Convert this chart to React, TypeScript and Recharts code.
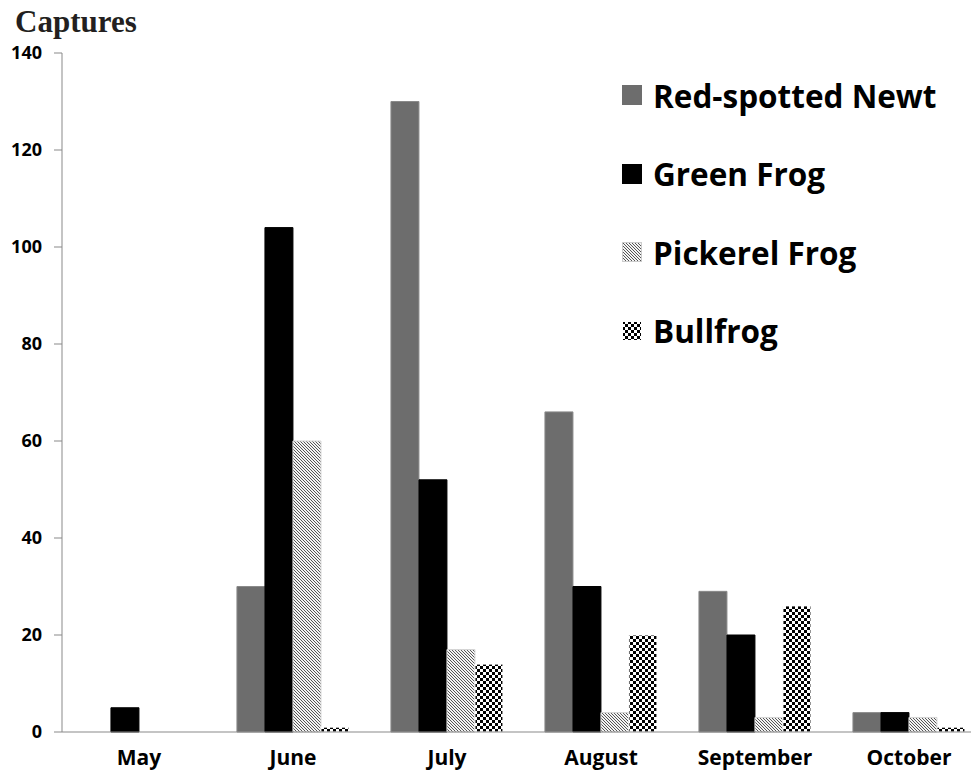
import React from "react";
import { BarChart, Bar, XAxis, YAxis, Legend } from "recharts";

const MONTHS = ["May", "June", "July", "August", "September", "October"];
const NEWT = [0, 30, 130, 66, 29, 4];
const GREEN_FROG = [5, 104, 52, 30, 20, 4];
const PICKEREL_FROG = [0, 60, 17, 4, 3, 3];
const BULLFROG = [0, 1, 14, 20, 26, 1];
const Y_TICKS = [0, 20, 40, 60, 80, 100, 120, 140];
const BOUNDARY_TICKS = [0, 1, 2, 3, 4, 5, 6];

const SERIES = [
  { key: "newt", name: "Red-spotted Newt", fill: "#6d6d6d", stroke: "#8a8a8a", pattern: "" },
  { key: "green", name: "Green Frog", fill: "#000000", stroke: "#000000", pattern: "" },
  { key: "pickerel", name: "Pickerel Frog", fill: "url(#pickerel)", stroke: "#d4d4d4", pattern: "pickerel" },
  { key: "bullfrog", name: "Bullfrog", fill: "url(#bullfrog)", stroke: "#ffffff", pattern: "bullfrog" },
];

const data = MONTHS.map((m, i) => ({
  month: m,
  newt: NEWT[i],
  green: GREEN_FROG[i],
  pickerel: PICKEREL_FROG[i],
  bullfrog: BULLFROG[i],
}));

const Patterns = ({ prefix }: { prefix: string }) => (
  <defs>
    <pattern id={prefix + "pickerel"} patternUnits="userSpaceOnUse" width={3} height={3}>
      <rect width={3} height={3} fill="#f4f4f4" />
      <path d="M0,0 L3,3 M-1,2 L1,4 M2,-1 L4,1" stroke="#555" strokeWidth={1} />
    </pattern>
    <pattern id={prefix + "bullfrog"} patternUnits="userSpaceOnUse" width={6} height={6}>
      <rect width={6} height={6} fill="#fff" />
      <rect width={3} height={3} fill="#000" />
      <rect x={3} y={3} width={3} height={3} fill="#000" />
    </pattern>
  </defs>
);

const renderLegend = () => (
  <div>
    {SERIES.map((s) => (
      <div key={s.key} style={{ display: "flex", alignItems: "center", height: 78.5 }}>
        <svg width={20} height={20} style={{ display: "block" }}>
          <Patterns prefix="lg-" />
          <rect
            x={0.5}
            y={0.5}
            width={19}
            height={19}
            fill={s.pattern ? `url(#lg-${s.pattern})` : s.fill}
            stroke={s.pattern === "pickerel" ? "#ccc" : s.fill.startsWith("url") ? "#fff" : s.fill}
          />
        </svg>
        <span
          style={{
            marginLeft: 11,
            fontFamily: '"Open Sans", sans-serif',
            fontWeight: 700,
            fontSize: 31.5,
            color: "#000",
            lineHeight: 1,
            whiteSpace: "nowrap",
          }}
        >
          {s.name}
        </span>
      </div>
    ))}
  </div>
);

export default function App() {
  return (
    <div
      style={{
        position: "relative",
        width: 979,
        height: 778,
        margin: -8,
        overflow: "hidden",
        background: "#fff",
      }}
    >
      <div
        style={{
          position: "absolute",
          left: 15,
          top: 6,
          fontFamily: '"Liberation Serif", "Times New Roman", serif',
          fontWeight: 700,
          fontSize: 31,
          lineHeight: "31px",
          color: "#231f20",
        }}
      >
        Captures
      </div>
      <BarChart
        width={1000}
        height={778}
        data={data}
        margin={{ top: 53, right: 14, bottom: 0, left: 0 }}
        barCategoryGap="13.6%"
        barGap={0}
      >
        <Patterns prefix="" />
        <XAxis
          xAxisId={0}
          type="number"
          domain={[0, 6]}
          ticks={BOUNDARY_TICKS}
          interval={0}
          height={0}
          axisLine={false}
          tickLine={{ stroke: "#898989" }}
          tickSize={8}
          tickFormatter={() => ""}
          allowDataOverflow
        />
        <XAxis
          xAxisId={1}
          dataKey="month"
          height={46}
          interval={0}
          axisLine={{ stroke: "#898989" }}
          tickLine={false}
          tickMargin={12}
          tick={{
            fill: "#000",
            fontSize: 21,
            fontWeight: 700,
            fontFamily: '"Open Sans", sans-serif',
          }}
        />
        <YAxis
          width={62}
          domain={[0, 140]}
          ticks={Y_TICKS}
          interval={0}
          tickSize={8}
          tickMargin={12}
          axisLine={{ stroke: "#898989" }}
          tickLine={{ stroke: "#898989" }}
          tick={{
            fill: "#000",
            fontSize: 18,
            fontWeight: 700,
            fontFamily: '"Open Sans", sans-serif',
          }}
        />
        <Legend
          layout="vertical"
          align="center"
          verticalAlign="middle"
          content={renderLegend}
          wrapperStyle={{ top: 56, left: 622, width: 357 }}
        />
        {SERIES.map((s) => (
          <Bar
            key={s.key}
            xAxisId={1}
            dataKey={s.key}
            name={s.name}
            fill={s.fill}
            stroke={s.stroke}
            strokeWidth={1}
            isAnimationActive={false}
          />
        ))}
      </BarChart>
    </div>
  );
}
